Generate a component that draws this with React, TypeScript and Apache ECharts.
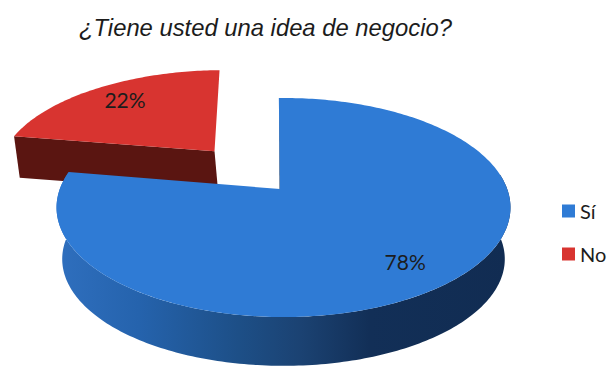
import React, { useEffect, useRef } from "react";
import * as echarts from "echarts";

// Answers to the survey question, in percent
const answerNames = ["Sí", "No"];
const answerShares = [78, 22];
const answerColors = ["#2f7bd5", "#d83430"];
const chartTitle = "¿Tiene usted una idea de negocio?";

// Perspective projection of the pie's unit disc onto the page
const RIM_X = 283.5;
const RIM_Y = 189;
const HALF_W = 223.7;
const HALF_H = 106.4;
const TILT = 0.169;
const START_DEG = -1.4;

const project = (u: number, v: number): [number, number] => {
  const d = 1 - TILT * v;
  return [RIM_X + (HALF_W * u) / d, RIM_Y + (HALF_H * v) / d];
};

// Extra radial offset per slice, and the radius of its percent label
const explodeBySlice = [0, 0.5];
const labelRadiusBySlice = [0.75, 0.78];
const labelNudgeBySlice = [[0, 6], [3, -1]];
// Horizontal shift of each slice's hub from the projected centre
const hubShiftBySlice = [-3.5, 0];
// Thickness of the lower rim: [scale, dx, dy]
const lowerRimBySlice = [[0.975, 0, 52], [0.99, 3, 41]];

const sideGradient = () =>
  new echarts.graphic.LinearGradient(
    57, 0, 510, 0,
    [
      { offset: 0, color: "#2f6fbe" },
      { offset: 0.18, color: "#2563ad" },
      { offset: 0.4, color: "#1d4f87" },
      { offset: 0.54, color: "#1b4272" },
      { offset: 0.69, color: "#122f57" },
      { offset: 1, color: "#112c52" },
    ],
    true
  );

const renderSlice = (index: number) => (_params: any, api: any) => {
  const share = api.value(0) as number;
  const total = answerShares.reduce((a, b) => a + b, 0);
  const before = answerShares.slice(0, index).reduce((a, b) => a + b, 0);
  const a0 = START_DEG + (before / total) * 360;
  const a1 = a0 + (share / total) * 360;
  const mid = ((a0 + a1) / 2) * (Math.PI / 180);
  const explode = explodeBySlice[index];
  const cu = explode * Math.sin(mid);
  const cv = -explode * Math.cos(mid);

  const rimPoint = (deg: number, r = 1) => {
    const t = (deg * Math.PI) / 180;
    return project(cu + r * Math.sin(t), cv - r * Math.cos(t));
  };
  const [scale, dx, dy] = lowerRimBySlice[index];
  const lower = (p: [number, number]): [number, number] => [
    RIM_X + (p[0] - RIM_X) * scale + dx,
    RIM_Y + (p[1] - RIM_Y) * scale + dy,
  ];
  const arc = (from: number, to: number) => {
    const out: [number, number][] = [];
    const n = Math.max(2, Math.ceil(Math.abs(to - from)));
    for (let i = 0; i <= n; i++) out.push(rimPoint(from + ((to - from) * i) / n));
    return out;
  };

  const base = project(cu, cv);
  const hub: [number, number] = [base[0] + hubShiftBySlice[index], base[1]];
  const children: any[] = [];

  if (index === 0) {
    // Curved front wall and the sliver of the cut face
    const front = arc(82, a1);
    children.push({
      type: "polygon",
      shape: { points: [...front, ...front.map(lower).reverse()] },
      style: { fill: sideGradient() },
    });
    const top = rimPoint(a0);
    children.push({
      type: "polygon",
      shape: { points: [[top[0] + 0.5, top[1]], [hub[0] - 0.5, hub[1]], [hub[0] + 1.8, hub[1]]] },
      style: { fill: "#14345e" },
    });
  } else {
    // Flat cut face towards the viewer
    const edge = rimPoint(a0);
    children.push({
      type: "polygon",
      shape: { points: [edge, hub, lower(hub), lower(edge)] },
      style: { fill: "#5a1511" },
    });
  }

  children.push({
    type: "polygon",
    shape: { points: [hub, ...arc(a0, a1)] },
    style: { fill: answerColors[index] },
  });

  const labelAt = rimPoint((a0 + a1) / 2, labelRadiusBySlice[index]);
  const nudge = labelNudgeBySlice[index];
  children.push({
    type: "text",
    x: labelAt[0] + nudge[0],
    y: labelAt[1] + nudge[1],
    style: {
      text: `${share}%`,
      fill: "#1c1c1c",
      font: '21px Lato, "Open Sans", sans-serif',
      align: "center",
      verticalAlign: "middle",
    },
  });

  return { type: "group", children };
};

export default function App() {
  const ref = useRef<HTMLDivElement>(null);

  useEffect(() => {
    const chart = echarts.init(ref.current!, null, { renderer: "svg" });
    chart.setOption({
      animation: false,
      backgroundColor: "#ffffff",
      title: {
        text: chartTitle,
        left: 74,
        top: 10,
        textStyle: {
          fontFamily: '"Liberation Sans", Arial, sans-serif',
          fontStyle: "italic",
          fontWeight: "normal",
          fontSize: 23.8,
          color: "#1c1c1c",
        },
      },
      legend: {
        orient: "vertical",
        left: 557,
        top: 196,
        itemWidth: 13,
        itemHeight: 13,
        itemGap: 23,
        icon: "rect",
        padding: 5,
        data: answerNames,
        textStyle: {
          fontFamily: 'Lato, "Open Sans", sans-serif',
          fontSize: 20,
          color: "#1c1c1c",
        },
      },
      series: answerNames.map((name, i) => ({
        type: "custom",
        name,
        coordinateSystem: "none",
        silent: true,
        z: i === 0 ? 3 : 2,
        itemStyle: { color: answerColors[i] },
        data: [answerShares[i]],
        renderItem: renderSlice(i),
      })),
    });
    return () => chart.dispose();
  }, []);

  return (
    <div
      ref={ref}
      style={{ position: "absolute", left: 0, top: 0, width: 607, height: 366 }}
    />
  );
}
